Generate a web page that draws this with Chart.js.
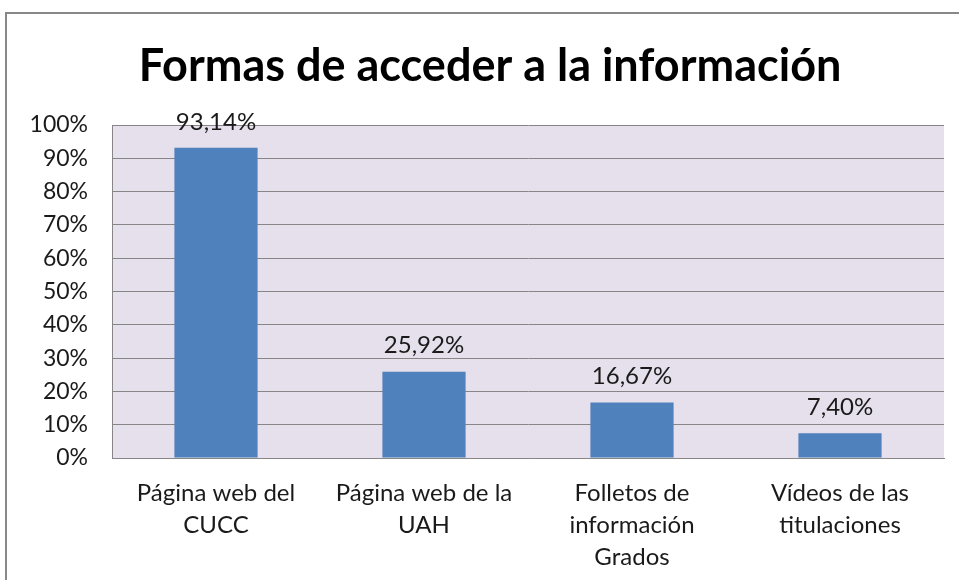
<!DOCTYPE html>
<html>
<head>
<meta charset="utf-8">
<script src="https://cdn.jsdelivr.net/npm/chart.js@4.4.1/dist/chart.umd.min.js"></script>
<style>
  html, body { margin: 0; padding: 0; background: #fff; }
  #wrap { position: relative; width: 959px; height: 580px; }
  #frame {
    position: absolute; left: 5px; top: 12px; right: 0; bottom: 0;
    border-left: 2px solid #888; border-top: 2px solid #888;
    pointer-events: none;
  }
</style>
</head>
<body>
<div id="wrap">
  <canvas id="barchart" width="959" height="580"></canvas>
  <div id="frame"></div>
</div>
<script>
const categories = [
  ["Página web del", "CUCC"],
  ["Página web de la", "UAH"],
  ["Folletos de", "información", "Grados"],
  ["Vídeos de las", "titulaciones"]
];
const values = [93.14, 25.92, 16.67, 7.40];
const valueLabels = ["93,14%", "25,92%", "16,67%", "7,40%"];
const yTicks = [0, 10, 20, 30, 40, 50, 60, 70, 80, 90, 100];

const FONT = "Lato, 'Open Sans', sans-serif";

// lavender plot background + value labels above the bars
const plotExtras = {
  id: "plotExtras",
  afterLayout(chart) {
    // title sits centred over the framed box, a bit right of the canvas centre
    if (chart.titleBlock) chart.titleBlock.left += 36;
  },
  beforeDraw(chart) {
    const a = chart.chartArea;
    const ctx = chart.ctx;
    ctx.save();
    ctx.fillStyle = "#E5E0EC";
    ctx.fillRect(a.left, a.top, a.right - a.left, a.bottom - a.top);
    ctx.restore();
  },
  afterDatasetsDraw(chart) {
    const ctx = chart.ctx;
    const meta = chart.getDatasetMeta(0);
    ctx.save();
    ctx.font = "24px " + FONT;
    ctx.fillStyle = "#1a1a1a";
    ctx.textAlign = "center";
    ctx.textBaseline = "middle";
    meta.data.forEach(function(bar, i) {
      ctx.fillText(valueLabels[i], bar.x, bar.y - 26);
    });
    ctx.restore();
  }
};

new Chart(document.getElementById("barchart"), {
  type: "bar",
  data: {
    labels: categories,
    datasets: [
      {
        data: values,
        backgroundColor: "#4F81BD",
        borderWidth: 0,
        categoryPercentage: 1,
        barPercentage: 0.4
      }
    ]
  },
  options: {
    responsive: false,
    animation: false,
    layout: {
      padding: { left: 0, right: 15, top: 0, bottom: 0 }
    },
    plugins: {
      legend: { display: false },
      tooltip: { enabled: false },
      title: {
        display: true,
        text: "Formas de acceder a la información",
        color: "#000",
        font: { family: FONT, size: 45, weight: "bold", lineHeight: 1.2 },
        padding: { top: 39, bottom: 32 }
      }
    },
    scales: {
      x: {
        grid: { display: false, drawTicks: false },
        border: { display: true, color: "#868686", width: 1 },
        ticks: {
          color: "#1a1a1a",
          font: { family: FONT, size: 24, lineHeight: 1.333 },
          padding: 19,
          maxRotation: 0,
          autoSkip: false
        },
        afterFit(scale) { scale.height = 122; }
      },
      y: {
        min: 0,
        max: 100,
        afterBuildTicks(scale) {
          scale.ticks = yTicks.map(v => ({ value: v }));
        },
        grid: { color: "#868686", lineWidth: 1, drawTicks: false },
        border: { display: true, color: "#868686", width: 1 },
        ticks: {
          color: "#1a1a1a",
          font: { family: FONT, size: 23 },
          padding: 24,
          callback: v => v + "%"
        },
        afterFit(scale) { scale.width = 112; }
      }
    }
  },
  plugins: [plotExtras]
});
</script>
</body>
</html>
